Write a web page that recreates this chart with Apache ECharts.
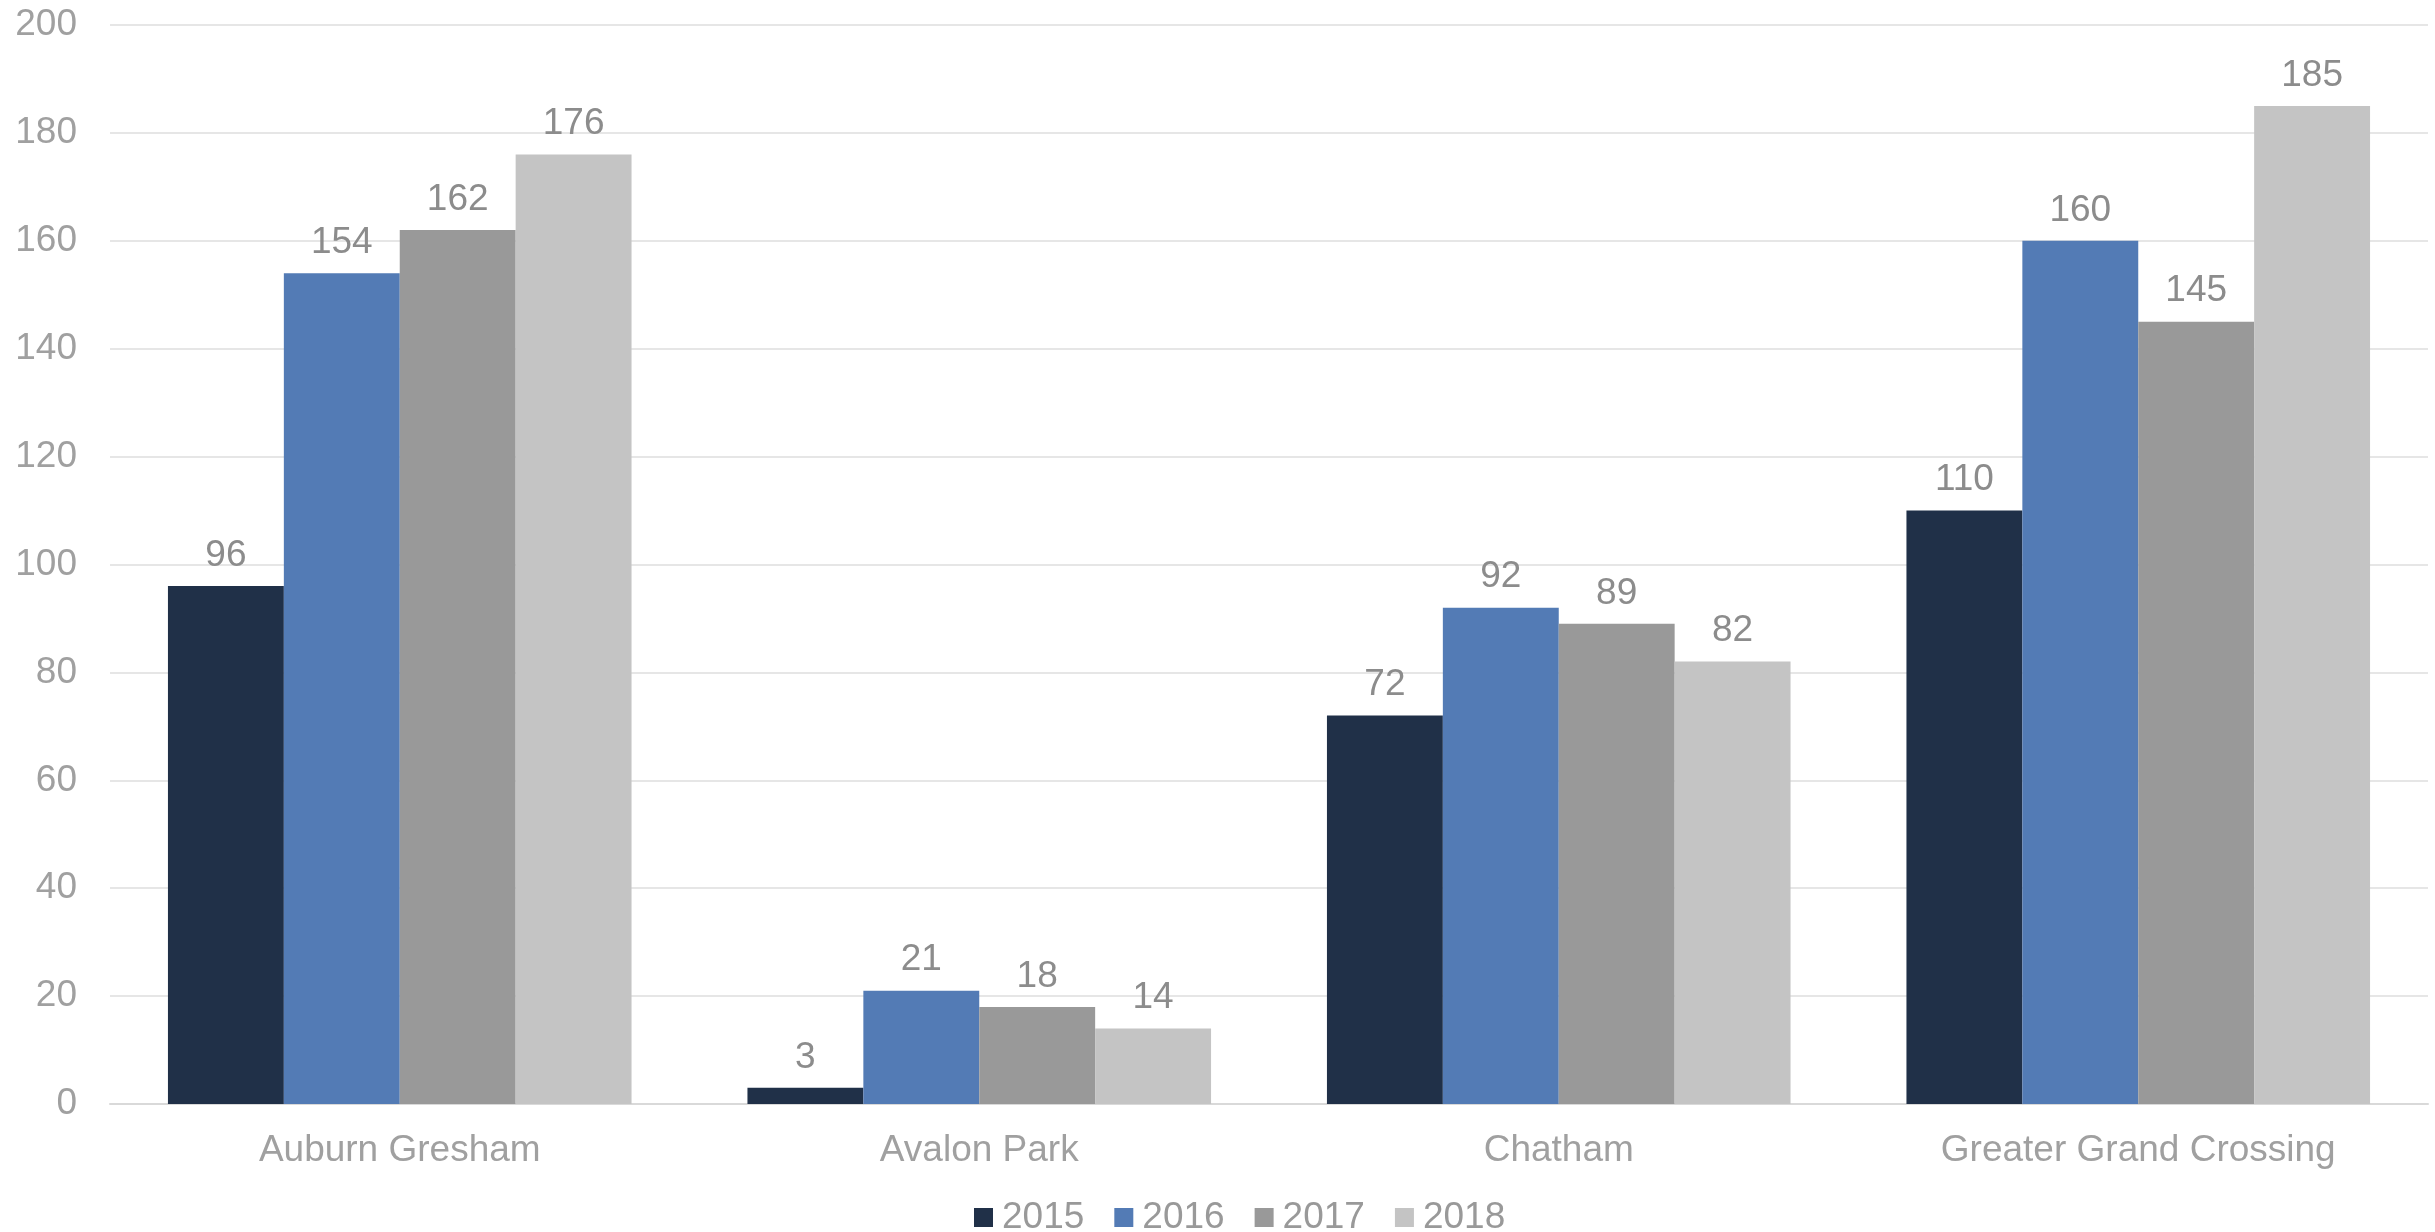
<!DOCTYPE html>
<html><head><meta charset="utf-8">
<script src="https://cdn.jsdelivr.net/npm/echarts@6/dist/echarts.min.js"></script>
<style>html,body{margin:0;padding:0;background:#fff}#c{width:2435px;height:1232px}</style>
</head><body><div id="c"></div>
<script>
const categories = ["Auburn Gresham", "Avalon Park", "Chatham", "Greater Grand Crossing"];
const years = ["2015", "2016", "2017", "2018"];
const v2015 = [96, 3, 72, 110];
const v2016 = [154, 21, 92, 160];
const v2017 = [162, 18, 89, 145];
const v2018 = [176, 14, 82, 185];
const yTicks = { min: 0, max: 200, interval: 20 };

const colors = ["#203048", "#537BB5", "#999999", "#C4C4C4"];
const seriesData = [v2015, v2016, v2017, v2018];
const FONT = "Liberation Sans, Arial, sans-serif";

const chart = echarts.init(document.getElementById('c'), null, {renderer: 'canvas'});
chart.setOption({
  animation: false,
  backgroundColor: '#ffffff',
  color: colors,
  grid: { left: 110, right: 7, top: 25, bottom: 128, containLabel: false },
  legend: {
    data: years, left: 969, top: 1194,
    itemWidth: 19, itemHeight: 19, itemGap: 30,
    icon: 'rect',
    textStyle: { fontFamily: FONT, fontSize: 37, color: '#999999', padding: [0,0,0,4] }
  },
  xAxis: {
    type: 'category', data: categories,
    axisLine: { show: true, lineStyle: { color: '#d9d9d9', width: 2 } },
    axisTick: { show: false },
    axisLabel: { fontFamily: FONT, fontSize: 37, color: '#a0a0a0', margin: 28 }
  },
  yAxis: {
    type: 'value', min: yTicks.min, max: yTicks.max, interval: yTicks.interval,
    axisLine: { show: false }, axisTick: { show: false },
    splitLine: { lineStyle: { color: '#e6e6e6', width: 2 } },
    axisLabel: { fontFamily: FONT, fontSize: 37, color: '#a0a0a0', margin: 33 }
  },
  series: years.map((y, i) => ({
    name: y, type: 'bar', data: seriesData[i],
    barGap: '0%', barCategoryGap: '20%',
    itemStyle: { color: colors[i] },
    label: { show: true, position: 'top', distance: 12, fontFamily: FONT, fontSize: 37, color: '#8c8c8c' }
  }))
});
</script></body></html>
